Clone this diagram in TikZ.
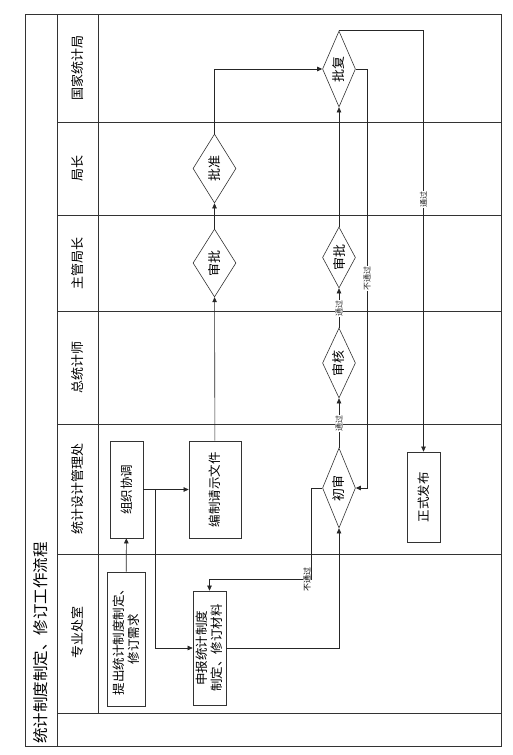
\documentclass[tikz,border=0pt]{standalone}
\usepackage{fontspec}
\setmainfont{Noto Sans CJK SC}
\usetikzlibrary{shapes.geometric, arrows.meta, positioning}

\begin{document}
\begin{tikzpicture}[x=1pt, y=-1pt,
  lane/.style={draw=black!80, line width=0.8pt},
  proc/.style={rectangle, draw=black!80, line width=0.7pt, rotate=90, inner sep=1pt, font=\fontsize{12.5}{15}\selectfont, align=center},
  dec/.style={diamond, aspect=2, draw=black!80, line width=0.6pt, rotate=90, inner sep=0pt, font=\fontsize{13}{15}\selectfont},
  lanename/.style={rotate=90, font=\fontsize{13}{15}\selectfont},
  lbl/.style={rotate=90, fill=white, inner sep=0.5pt, font=\fontsize{8}{9}\selectfont},
  arr/.style={-{Triangle[length=5pt, width=4.5pt]}, line width=0.6pt, black!85}
]
\useasboundingbox (0,0) rectangle (513,755);

% frame and lanes
\draw[lane] (25,14) rectangle (501,746);
\draw[lane] (57,14) -- (57,746);
\draw[lane] (98,14) -- (98,713);
\foreach \y in {122,215,311,424,554,713}
  \draw[lane] (57,\y) -- (501,\y);

\node[rotate=90, anchor=west, inner sep=0pt, font=\fontsize{15.5}{17}\selectfont] (title) at (41,744) {统计制度制定、修订工作流程};

\node[lanename] (l1) at (77.5,68) {国家统计局};
\node[lanename] (l2) at (77.5,168.5) {局长};
\node[lanename] (l3) at (77.5,263) {主管局长};
\node[lanename] (l4) at (77.5,367.5) {总统计师};
\node[lanename] (l5) at (77.5,489) {统计设计管理处};
\node[lanename] (l6) at (77.5,632) {专业处室};

% steps
\node[proc, minimum width=97pt, minimum height=33pt] (zuzhi) at (126.5,489.5) {组织协调};
\node[proc, minimum width=97pt, minimum height=52pt] (bianzhi) at (215,489.5) {编制请示文件};
\node[proc, minimum width=134pt, minimum height=38pt] (tichu) at (126,639) {提出统计制度制定、\\修订需求};
\node[proc, minimum width=114pt, minimum height=33pt] (shenbao) at (209.5,648) {申报统计制度\\制定、修订材料};
\node[proc, minimum width=90pt, minimum height=33pt] (fabu) at (423.5,497) {正式发布};

\node[dec, minimum width=69pt, minimum height=43pt] (pizhun) at (214.5,168.5) {批准};
\node[dec, minimum width=68pt, minimum height=43pt] (shenpi1) at (214.5,263) {审批};
\node[dec, minimum width=76pt, minimum height=33pt] (pifu) at (339,69) {批复};
\node[dec, minimum width=61pt, minimum height=33pt] (shenpi2) at (339,257.5) {审批};
\node[dec, minimum width=70pt, minimum height=33pt] (shenhe) at (339,363) {审核};
\node[dec, minimum width=80pt, minimum height=33pt] (chushen) at (339,488) {初审};

% connectors
\coordinate (split) at (155,489.5);
\coordinate (back1) at (311,579);
\coordinate (r1) at (367,69);
\coordinate (r2) at (367,488);

\draw[arr] (tichu) -- (zuzhi);
\draw[arr] (zuzhi) -- (bianzhi);
\draw[arr] (split) |- (shenbao);
\draw[arr] (bianzhi) -- (shenpi1);
\draw[arr] (shenpi1) -- (pizhun);
\draw[arr] (pizhun) |- (pifu);
\draw[arr] (shenbao) -| (chushen);
\draw[arr] (chushen.north) -| (back1) -| (shenbao.east);
\node[lbl] (n1) at (307,579) {不通过};
\draw[arr] (chushen) -- node[lbl] (t1) {通过} (shenhe);
\draw[arr] (shenhe) -- node[lbl] (t2) {通过} (shenpi2);
\draw[arr] (shenpi2) -- (pifu);
\draw[arr] (pifu.south) -- (r1) -- node[lbl] (n2) {不通过} (r2) -- (chushen.south);
\draw[arr] (pifu.east) -| node[lbl, pos=0.7] (t3) {通过} (fabu);
\end{tikzpicture}
\end{document}
